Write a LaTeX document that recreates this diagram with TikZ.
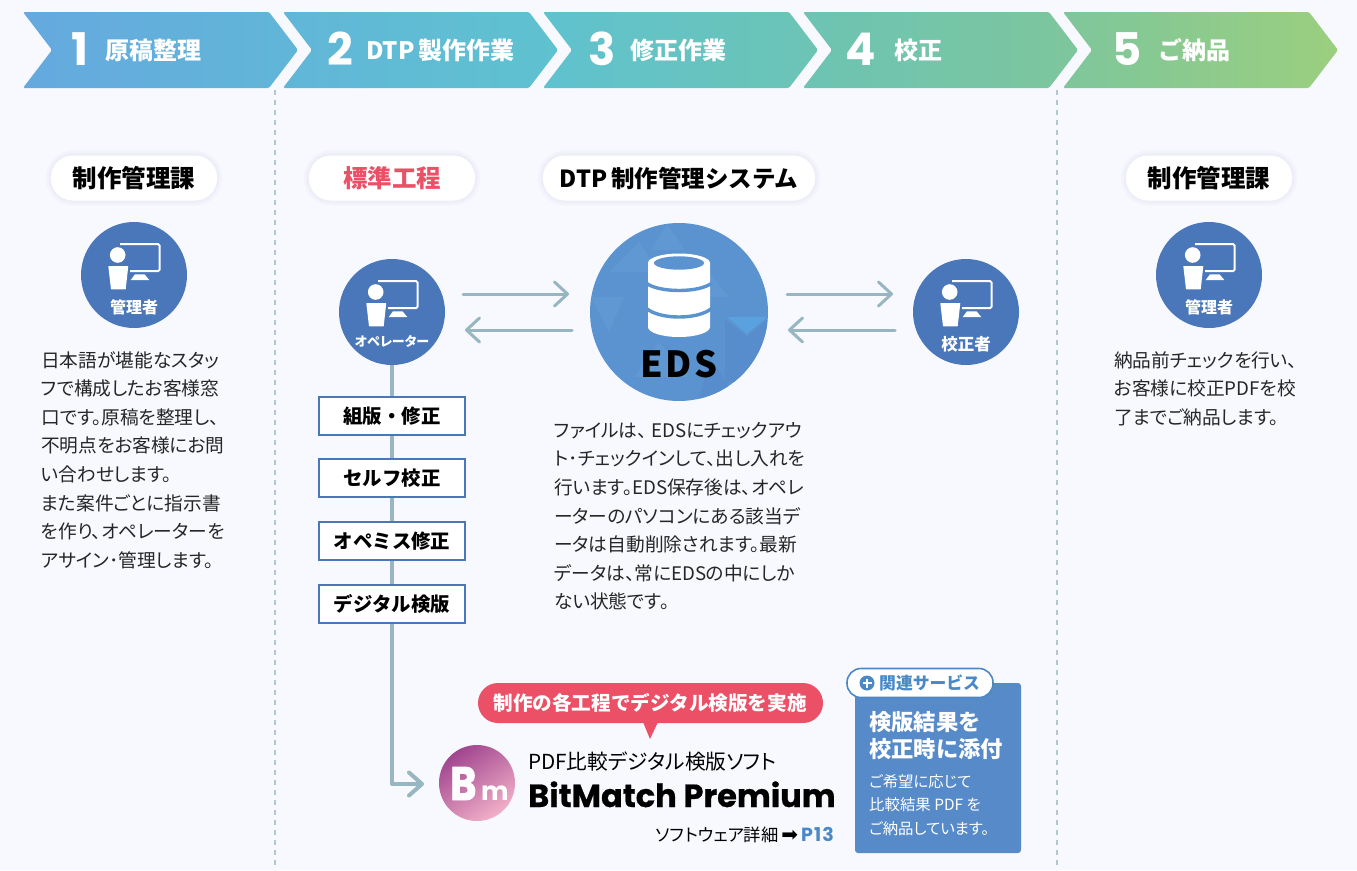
\documentclass[tikz,border=0pt]{standalone}
\usepackage{fontspec}
\usetikzlibrary{arrows.meta,calc}
\setmainfont{Noto Sans CJK JP}
\newfontfamily\palt{Noto Sans CJK JP}[RawFeature={+palt}]
\newfontfamily\edsfont{Noto Sans CJK JP}[LetterSpace=6]
\newfontfamily\popf{Poppins}
\newfontfamily\popls{Poppins}[LetterSpace=6]
\newfontfamily\djv{DejaVu Sans}
\definecolor{bgc}{HTML}{F8F9FE}
\definecolor{circ}{HTML}{4A76BA}
\definecolor{edsc}{HTML}{5B93D0}
\definecolor{fa}{HTML}{5AA2DF}
\definecolor{fb}{HTML}{6098D3}
\definecolor{fc}{HTML}{578DCC}
\definecolor{linec}{HTML}{97B6C2}
\definecolor{redc}{HTML}{EB5066}
\definecolor{svc}{HTML}{568AC9}
\definecolor{tagc}{HTML}{4A88C6}
\definecolor{g1}{HTML}{65A9DF}
\definecolor{g2}{HTML}{61B6D8}
\definecolor{g3}{HTML}{5FC2CF}
\definecolor{g4}{HTML}{6CC4B4}
\definecolor{g5}{HTML}{7EC69C}
\definecolor{g6}{HTML}{9BCF7E}
\definecolor{bma}{HTML}{A0458F}
\definecolor{bmb}{HTML}{C95A9C}
\definecolor{bmc}{HTML}{F2B0C8}
\newcommand\fs[1]{\fontsize{#1}{#1}\selectfont}
\newcommand\chev[3]{%
  \path[left color=#2,right color=#3,rounded corners=1.5pt]
    (#1,12) -- ({#1+246},12) -- ({#1+275},50) -- ({#1+246},88) -- (#1,88) -- ({#1+29},50) -- cycle;}
\newcommand\usericon[1]{%
  \begin{scope}[shift={(#1)}]
    \fill[white] (-16.3,-20) circle (7.8);
    \fill[white,rounded corners=.5pt] (-25.7,-9) -- (-5.7,-9) -- (-8.3,14.3) -- (-23,14.3) -- cycle;
    \draw[white,line width=2pt,rounded corners=1.5pt] (-14,-31) -- (25.5,-31) -- (25.5,-3.8) -- (-4,-3.8);
    \fill[white] (-3.3,5) -- (1,-.7) -- (10.5,-.7) -- (15.3,5) -- cycle;
  \end{scope}}
\tikzset{
  pill/.style={fill=white,rounded corners=22pt,minimum width=166pt,minimum height=45pt,inner sep=0pt,font=\bfseries\fs{24.5},
    preaction={draw=black!40!blue!40,opacity=.05,line width=10pt},
    preaction={draw=black!40!blue!40,opacity=.06,line width=5pt}},
  role/.style={circle,fill=circ,minimum size=106pt,inner sep=0pt},
  rolelabel/.style={text=white,inner sep=0pt,font=\bfseries\fs{16}},
  flowbox/.style={draw=circ,line width=2pt,fill=white,minimum width=146pt,minimum height=38pt,inner sep=0pt,font=\bfseries\fs{19.4}},
  conn/.style={draw=linec,line width=3pt,line cap=round,-{Straight Barb[length=13pt,width=24pt,round]}},
  bodytxt/.style={anchor=north west,align=left,inner sep=0pt,font=\palt\fontsize{18.7}{28.6}\selectfont,text=black!85},
  sepline/.style={draw=linec!75,line width=1.2pt,dash pattern=on 5pt off 5pt},
  steptitle/.style={anchor=west,text=white,inner sep=0pt,font=\bfseries\fs{24}},
  stepnum/.style={text=white,inner sep=0pt,font=\popf\bfseries\fs{45}},
  plain/.style={inner sep=0pt},
  svsmall/.style={plain,anchor=west,text=white,font=\palt\fs{15.4}},
  svbig/.style={plain,anchor=west,text=white,font=\bfseries\fs{22.3}},
}
\begin{document}
\begin{tikzpicture}[x=1pt,y=-1pt]
\path[use as bounding box,fill=bgc] (0,0) rectangle (1357,870);
% separators
\draw[sepline] (275,90) -- (275,870);
\draw[sepline] (1057,90) -- (1057,870);
% steps
\chev{23}{g1}{g2}
\chev{283}{g2}{g3}
\chev{543}{g3}{g4}
\chev{803}{g4}{g5}
\chev{1063}{g5}{g6}
\node[stepnum] (n1) at (80,49) {1};
\node[stepnum] (n2) at (340,49) {2};
\node[stepnum] (n3) at (602,49) {3};
\node[stepnum] (n4) at (861,49) {4};
\node[stepnum] (n5) at (1127,49) {5};
\node[steptitle] (t1) at (105,50) {原稿整理};
\node[steptitle] (t2) at (366,50) {DTP\,製作作業};
\node[steptitle] (t3) at (630,50) {修正作業};
\node[steptitle] (t4) at (894,50) {校正};
\node[steptitle] (t5) at (1158,50) {ご納品};
% pills
\node[pill] (p1) at (134,178) {制作管理課};
\node[pill,text=redc] (p2) at (392,178) {標準工程};
\node[pill,minimum width=272pt,font=\bfseries\fs{23.5}] (p3) at (679,178) {DTP\,制作管理システム};
\node[pill] (p4) at (1209,178) {制作管理課};
% connectors behind boxes
\coordinate (bmin) at (424,784);
\coordinate (a1s) at (463,294); \coordinate (a1e) at (569,294);
\coordinate (a2s) at (572,330); \coordinate (a2e) at (465,330);
\coordinate (a3s) at (787,294); \coordinate (a3e) at (893,294);
\coordinate (a4s) at (895,330); \coordinate (a4e) at (788,330);
\coordinate (opb) at (392,360);
\draw[conn,line width=4pt,line cap=butt,line join=round,-{Straight Barb[length=13pt,width=23pt,round]}] (opb) |- (bmin);
\draw[conn] (a1s) -- (a1e);
\draw[conn] (a2s) -- (a2e);
\draw[conn] (a3s) -- (a3e);
\draw[conn] (a4s) -- (a4e);
% role circles
\node[role] (mgr1) at (134,275) {};
\node[role] (op) at (392,312) {};
\node[role] (chk) at (966,312) {};
\node[role] (mgr2) at (1209,275) {};
\node[circle,fill=edsc,minimum size=178pt,inner sep=0pt] (eds) at (679,312) {};
\usericon{mgr1.center}
\usericon{op.center}
\usericon{chk.center}
\usericon{mgr2.center}
\node[rolelabel] (l1) at (134,307) {管理者};
\node[rolelabel,font=\palt\bfseries\fs{13}] (l2) at (392,341) {オペレーター};
\node[rolelabel,font=\bfseries\fs{16.5}] (l3) at (966,344) {校正者};
\node[rolelabel] (l4) at (1209,307) {管理者};
% EDS facets and cylinder
\begin{scope}[shift={(eds.center)}]
  \clip (0,0) circle (89);
  \fill[fb] (-28,-62) -- (-12,-88) -- (6,-62) -- cycle;
  \fill[fb] (-70,-40) -- (-40,-70) -- (-20,-40) -- cycle;
  \fill[fc] (46,8) -- (68,24) -- (88,8) -- (88,70) -- (46,70) -- cycle;
  \fill[fa] (48,5) -- (88,5) -- (68,22) -- cycle;
  \fill[fb] (-88,-15) -- (-55,-15) -- (-70,20) -- cycle;
  \fill[fb] (30,-40) -- (50,-15) -- (10,-15) -- cycle;
  \fill[fb] (-20,30) -- (10,65) -- (-45,65) -- cycle;
  \fill[fc] (30,45) -- (60,88) -- (20,88) -- cycle;
  \fill[white] (-31,-49) -- (-31,15) arc[start angle=180,end angle=0,x radius=31,y radius=10] -- (31,-49) arc[start angle=0,end angle=-180,x radius=31,y radius=9.5] -- cycle;
  \fill[edsc] (0,-49) ellipse[x radius=25,y radius=6.7];
  \draw[edsc,line width=3.4pt] (-33,-29) .. controls (-20,-19) and (20,-19) .. (33,-29);
  \draw[edsc,line width=3.4pt] (-33,-4) .. controls (-20,8) and (20,8) .. (33,-4);
\end{scope}
\node[plain,font=\edsfont\bfseries\fs{36}] (edst) at (679,364) {EDS};
% flow boxes
\node[flowbox] (b1) at (392,416) {組版・修正};
\node[flowbox] (b2) at (392,478) {セルフ校正};
\node[flowbox] (b3) at (392,541) {オペミス修正};
\node[flowbox] (b4) at (392,604) {デジタル検版};
% body text
\node[bodytxt] (txt1) at (41,351) {日本語が堪能なスタッ\\フで構成したお客様窓\\口です。原稿を整理し、\\不明点をお客様にお問\\い合わせします。\\また案件ごとに指示書\\を作り、オペレーターを\\アサイン･管理します。};
\node[bodytxt] (txt2) at (554,422) {ファイルは、 EDSにチェックアウ\\ト･チェックインして、出し入れを\\行います。EDS保存後は、オペレ\\ーターのパソコンにある該当デ\\ータは自動削除されます。最新\\データは、常にEDSの中にしか\\ない状態です。};
\node[bodytxt] (txt3) at (1114,351) {納品前チェックを行い、\\お客様に校正PDFを校\\了までご納品します。};
% red bubble
\fill[redc,rounded corners=20pt] (478,683) rectangle (823,723);
\fill[redc] (643,722) -- (650,739) -- (658,722) -- cycle;
\node[plain,text=white,font=\bfseries\fs{19.6}] (bubble) at (650,703) {制作の各工程でデジタル検版を実施};
% BitMatch logo
\node[circle,minimum size=76pt,inner sep=0pt,top color=bma,middle color=bmb,bottom color=bmc,shading angle=35] (bm) at (477,783) {};
\node[plain,text=white,anchor=base west,font=\popf\bfseries\addfontfeature{FakeBold=2}\fs{47}] (bmB) at (450,800) {\scalebox{.85}[1]{B}};
\node[plain,text=white,anchor=base west,font=\popf\bfseries\fs{26}] (bmm) at (481,800) {m};
\node[plain,anchor=west,font=\palt\fs{20.7}] (soft1) at (528,762) {PDF比較デジタル検版ソフト};
\node[plain,anchor=base west,font=\popf\bfseries\addfontfeature{FakeBold=0.6}\fs{32}] (soft2) at (528,807) {BitMatch Premium};
\node[plain,anchor=east,font=\palt\fs{17.3}] (soft3) at (834,835) {ソフトウェア詳細\,{\djv\fs{20}➡}\,\textcolor{tagc}{\popls\bfseries\fs{19}P13}};
% service panel
\fill[svc,rounded corners=3pt] (855,683) rectangle (1021,853);
\node[draw=tagc,line width=1.6pt,fill=white,rounded corners=14pt,minimum width=146pt,minimum height=29pt,inner sep=0pt] (tag) at (920,683) {};
\fill[tagc] (867,683) circle (7.5);
\draw[white,line width=2pt] (862.5,683) -- (871.5,683) (867,678.5) -- (867,687.5);
\node[plain,anchor=west,text=tagc,font=\bfseries\fs{16.8}] (tagt) at (879,683) {関連サービス};
\node[svbig] (sv1) at (869,722) {検版結果を};
\node[svbig] (sv2) at (869,749) {校正時に添付};
\node[svsmall] (sv3) at (869,782) {ご希望に応じて};
\node[svsmall] (sv4) at (869,805) {比較結果 PDF を};
\node[svsmall] (sv5) at (869,829) {ご納品しています。};
\end{tikzpicture}
\end{document}
